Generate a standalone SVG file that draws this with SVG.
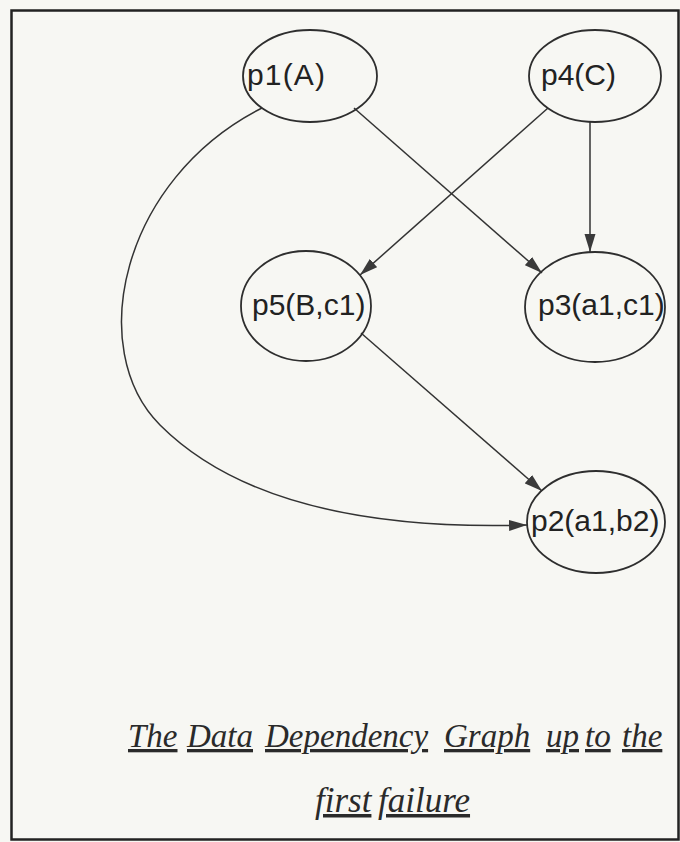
<svg xmlns="http://www.w3.org/2000/svg" width="680" height="842" viewBox="0 0 680 842">
<style>
.node ellipse{fill:none;stroke:#2e2e2e;stroke-width:1.8}
.node text{font-family:"Liberation Sans",Arial,sans-serif;font-size:30px;fill:#222}
.edge{fill:none;stroke:#333;stroke-width:1.5;marker-end:url(#arr)}
.cap{font-family:"Liberation Serif","Times New Roman",serif;font-style:italic;font-size:33px;fill:#2a2a2a;text-decoration:underline}
.cap2{font-size:35px}
</style>
<defs>
<marker id="arr" markerUnits="userSpaceOnUse" markerWidth="18" markerHeight="12" refX="18" refY="6" orient="auto">
<path d="M0,0.5 L18,6 L0,11.5 Z" fill="#3a3a3a"/>
</marker>
</defs>
<rect x="0" y="0" width="680" height="842" fill="#f7f7f3"/>
<rect x="11.5" y="10.5" width="667" height="829" fill="none" stroke="#222" stroke-width="2.5"/>
<g id="connectors">
<path class="edge" d="M354,108 L542,273"/>
<path class="edge" d="M548,108 L360,275"/>
<path class="edge" d="M590,122 L590,252"/>
<path class="edge" d="M361,333 L542,491"/>
<path class="edge" d="M262,108 C120,180 85,350 160,425 C235,500 360,530 527,525"/>
</g>
<g id="p1" class="node"><ellipse cx="310" cy="76" rx="67" ry="46"/><text x="247" y="85" textLength="78">p1(A)</text></g>
<g id="p4" class="node"><ellipse cx="595" cy="76" rx="66" ry="46"/><text x="541" y="85">p4(C)</text></g>
<g id="p5" class="node"><ellipse cx="306" cy="306" rx="65" ry="55"/><text x="252" y="315">p5(B,c1)</text></g>
<g id="p3" class="node"><ellipse cx="595" cy="307" rx="70" ry="55"/><text x="538" y="315">p3(a1,c1)</text></g>
<g id="p2" class="node"><ellipse cx="596" cy="522" rx="69" ry="51"/><text x="531" y="531">p2(a1,b2)</text></g>
<g id="caption">
<text class="cap" x="128" y="747">The</text>
<text class="cap" x="187" y="747">Data</text>
<text class="cap" x="265" y="747">Dependency</text>
<text class="cap" x="444" y="747">Graph</text>
<text class="cap" x="546" y="747">up</text>
<text class="cap" x="585" y="747">to</text>
<text class="cap" x="622" y="747">the</text>
<text class="cap cap2" x="315" y="812">first</text>
<text class="cap cap2" x="378" y="812">failure</text>
</g>
</svg>
